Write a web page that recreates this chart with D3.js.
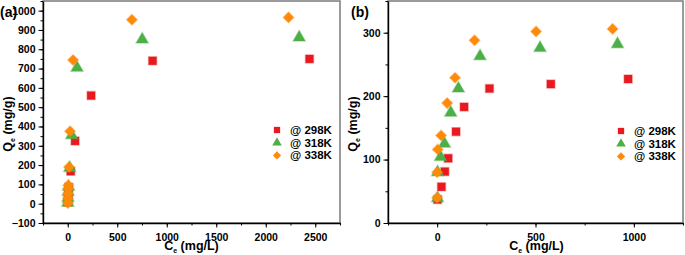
<!DOCTYPE html>
<html>
<head>
<meta charset="utf-8">
<script src="https://cdn.jsdelivr.net/npm/d3@7"></script>
<style>
  body { margin: 0; background: #fff; }
  svg { font-family: "Liberation Sans", Arial, sans-serif; font-weight: bold; }
  .axis text { font-size: 10.5px; font-weight: bold; fill: #000; }
  .axis path, .axis line { stroke: #000; }
</style>
</head>
<body>
<svg id="chart" width="685" height="255"></svg>
<script>
// panel (a)
const a298 = [[2, 8], [4, 25], [6, 50], [10, 85], [30, 168], [74, 325], [236, 560], [857, 740], [2442, 750]];
const a318 = [[1, 5], [3, 30], [5, 60], [8, 88], [20, 185], [40, 354], [94, 704], [752, 851], [2338, 861]];
const a338 = [[1, 3], [2, 28], [3, 52], [5, 78], [5, 95], [13, 190], [23, 375], [54, 744], [648, 953], [2230, 965]];
// panel (b)
const b298 = [[2, 37], [22, 57], [39, 81], [56, 102], [96, 144], [137, 183], [266, 212], [578, 219], [971, 227]];
const b318 = [[2, 39], [2, 80], [17, 104], [37, 125], [69, 174], [108, 212], [218, 263], [523, 276], [917, 282]];
const b338 = [[0, 40], [0, 80], [3, 116], [20, 138], [51, 189], [91, 229], [190, 288], [503, 302], [892, 306]];

const legendLabels = ['@ 298K', '@ 318K', '@ 338K'];
const colors = ['#e8191f', '#4caf48', '#ff8a0a'];
// diamond drawn as a square turned 45 degrees
const shapes = [d3.symbolSquare, d3.symbolTriangle, d3.symbolSquare];
const turns = [0, 0, 45];
const sizes = [64, 64, 56];

const svg = d3.select('#chart');

function drawPanel(opts) {
  const g = svg.append('g');
  const x = d3.scaleLinear().domain(opts.xDomain).range([opts.left, opts.right]);
  const y = d3.scaleLinear().domain(opts.yDomain).range([opts.bottom, opts.top]);

  // frame
  g.append('rect')
    .attr('x', opts.left).attr('y', opts.top)
    .attr('width', opts.right - opts.left).attr('height', opts.bottom - opts.top)
    .attr('fill', 'none').attr('stroke', '#7a7a7a').attr('stroke-width', 1.5);

  // minor ticks
  const xMinor = d3.range(opts.xDomain[0], opts.xDomain[1] + 1, opts.xMinor);
  const yMinor = d3.range(opts.yDomain[0], opts.yDomain[1] + 1, opts.yMinor);
  g.append('g').attr('class', 'axis')
    .attr('transform', 'translate(0,' + opts.bottom + ')')
    .call(d3.axisBottom(x).tickValues(xMinor).tickSize(2.5).tickFormat(''))
    .select('.domain').remove();
  g.append('g').attr('class', 'axis')
    .attr('transform', 'translate(' + opts.left + ',0)')
    .call(d3.axisLeft(y).tickValues(yMinor).tickSize(2.5).tickFormat(''))
    .select('.domain').remove();

  // major axes
  const xAxis = g.append('g').attr('class', 'axis')
    .attr('transform', 'translate(0,' + opts.bottom + ')')
    .call(d3.axisBottom(x).tickValues(opts.xTicks).tickSize(4.5).tickSizeOuter(0).tickPadding(6).tickFormat(d3.format('d')));
  const yAxis = g.append('g').attr('class', 'axis')
    .attr('transform', 'translate(' + opts.left + ',0)')
    .call(d3.axisLeft(y).tickValues(opts.yTicks).tickSize(4.5).tickSizeOuter(0).tickPadding(3)
      .tickFormat(d => d < 0 ? '\u2212' + Math.abs(d) : d));
  xAxis.select('.domain').attr('stroke-width', 1.4);
  yAxis.select('.domain').attr('stroke-width', 1.4);

  // points
  opts.series.forEach((s, i) => {
    g.append('g').selectAll('path')
      .data(s)
      .join('path')
      .attr('transform', d => 'translate(' + x(d[0]) + ',' + y(d[1]) + ') rotate(' + turns[i] + ')')
      .attr('d', d3.symbol().type(shapes[i]).size(sizes[i]))
      .attr('fill', colors[i])
      .attr('stroke', colors[i])
      .attr('stroke-opacity', 0.35)
      .attr('stroke-width', 1.5);
  });

  // legend
  legendLabels.forEach((t, i) => {
    const ly = opts.legendY + i * 12.7;
    g.append('path')
      .attr('transform', 'translate(' + opts.legendX + ',' + ly + ') rotate(' + turns[i] + ')')
      .attr('d', d3.symbol().type(shapes[i]).size(sizes[i] * 0.62))
      .attr('fill', colors[i]);
    g.append('text')
      .attr('x', opts.legendX + 13).attr('y', ly + 4)
      .attr('font-size', 11.5).text(t);
  });

  // axis titles
  const xt = g.append('text')
    .attr('x', (opts.left + opts.right) / 2 + opts.xTitleShift).attr('y', 250)
    .attr('text-anchor', 'middle').attr('font-size', 12.5);
  xt.append('tspan').text('C');
  xt.append('tspan').attr('font-size', 7).attr('dy', 3).text('e');
  xt.append('tspan').attr('dy', -3).text(' (mg/L)');

  const yt = g.append('text')
    .attr('transform', 'translate(' + opts.yTitleX + ',' + ((opts.top + opts.bottom) / 2 + 12) + ') rotate(-90)')
    .attr('text-anchor', 'middle').attr('font-size', 12.5);
  yt.append('tspan').text('Q');
  yt.append('tspan').attr('font-size', 7).attr('dy', 3).text('e');
  yt.append('tspan').attr('dy', -3).text(' (mg/g)');

  g.append('text')
    .attr('x', opts.tagX).attr('y', 17)
    .attr('font-size', 14).text(opts.tag);
}

drawPanel({
  left: 43, right: 340, top: 1, bottom: 223,
  xDomain: [-250, 2750], yDomain: [-100, 1050],
  xTicks: [0, 500, 1000, 1500, 2000, 2500],
  yTicks: d3.range(-100, 1001, 100),
  xMinor: 250, yMinor: 50,
  series: [a298, a318, a338],
  legendX: 277, legendY: 130,
  xTitleShift: 0, yTitleX: 12,
  tag: '(a)', tagX: 0
});

drawPanel({
  left: 388, right: 683, top: 1, bottom: 223,
  xDomain: [-250, 1250], yDomain: [0, 350],
  xTicks: [0, 500, 1000],
  yTicks: [0, 100, 200, 300],
  xMinor: 250, yMinor: 50,
  series: [b298, b318, b338],
  legendX: 621, legendY: 131,
  xTitleShift: 1, yTitleX: 357,
  tag: '(b)', tagX: 351
});
</script>
</body>
</html>
